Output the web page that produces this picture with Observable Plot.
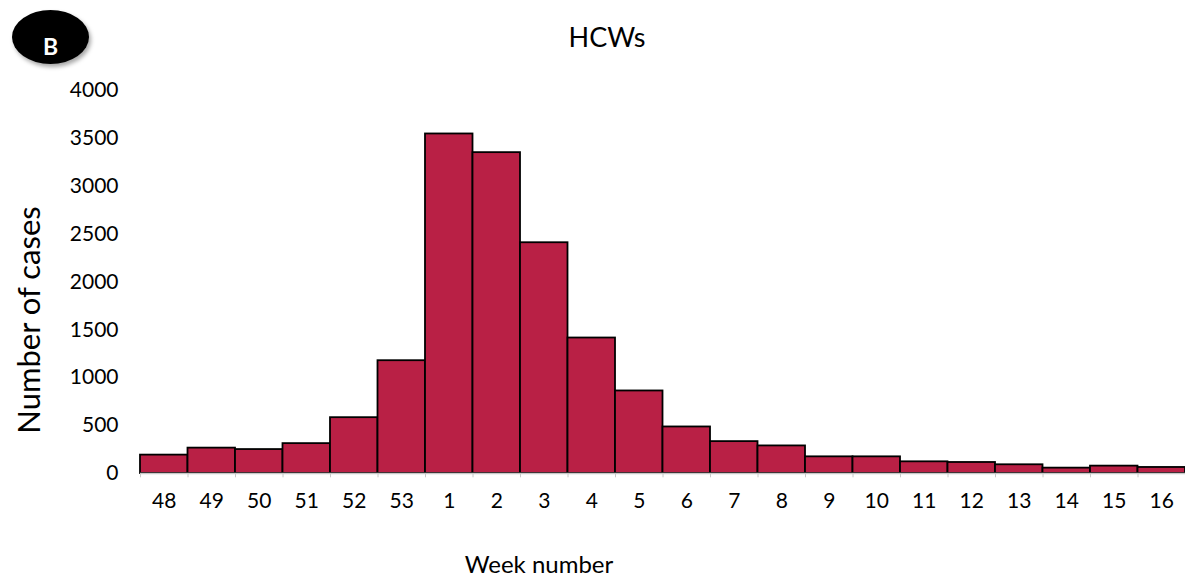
<!DOCTYPE html>
<html>
<head>
<meta charset="utf-8">
<script src="https://cdn.jsdelivr.net/npm/d3@7"></script>
<script src="https://cdn.jsdelivr.net/npm/@observablehq/plot@0.6"></script>
<style>
  html, body { margin: 0; padding: 0; background: #fff; }
  #wrap { position: relative; width: 1185px; height: 578px; overflow: hidden; }
  #badge {
    position: absolute; left: 12px; top: 10px; width: 77px; height: 54px;
    border-radius: 50%; background: #000; color: #fff;
    box-shadow: 2px 3px 4px rgba(0,0,0,0.35);
    font-family: Lato, "Open Sans", sans-serif; font-weight: 700; font-size: 23px;
    display: flex; align-items: center; justify-content: center;
    padding-top: 18px; box-sizing: border-box;
  }
</style>
</head>
<body>
<div id="wrap"><div id="badge">B</div></div>
<script>
const weeks = ["48","49","50","51","52","53","1","2","3","4","5","6","7","8","9","10","11","12","13","14","15","16"];
const cases = [192, 265, 250, 312, 583, 1178, 3546, 3351, 2410, 1415, 862, 486, 333, 288, 174, 174, 122, 115, 91, 56, 77, 63];
const yTicks = [0, 500, 1000, 1500, 2000, 2500, 3000, 3500, 4000];
const title = "HCWs";
const xLabel = "Week number";
const yLabel = "Number of cases";

const data = weeks.map((w, i) => ({week: w, value: cases[i]}));
const W = 1185, ML = 140, MR = 0;
const bw = (W - ML - MR) / weeks.length;

const chart = Plot.plot({
  width: W,
  height: 578,
  marginLeft: ML,
  marginRight: MR,
  marginTop: 90,
  marginBottom: 105,
  style: {fontFamily: "Lato, 'Open Sans', sans-serif", fontSize: "21px", color: "#000", background: "#fff", overflow: "visible"},
  x: {domain: weeks, padding: 0, round: false, label: null},
  y: {domain: [0, 4000], label: null},
  marks: [
    Plot.barY(data, {x: "week", y: "value", fill: "#B92045", stroke: "#000", strokeWidth: 1.8, inset: 0}),
    Plot.ruleX(weeks, {x: d => d, dx: -bw / 2, y1: 0, y2: -45, stroke: "#c8c8c8", strokeWidth: 1}),
    Plot.ruleY([0], {stroke: "#c8c8c8", strokeWidth: 1.5}),
    Plot.axisX({tickSize: 0, tickPadding: 20, fontSize: 21, label: null}),
    Plot.axisY({ticks: yTicks, tickFormat: d => String(d), tickSize: 0, tickPadding: 22, fontSize: 21, label: null}),
    Plot.text([title], {frameAnchor: "top", lineAnchor: "middle", dx: -56, dy: -52, fontSize: 27, textAnchor: "middle"}),
    Plot.text([xLabel], {frameAnchor: "bottom", lineAnchor: "middle", dx: -124, dy: 92, fontSize: 24, textAnchor: "middle"}),
    Plot.text([yLabel], {frameAnchor: "left", lineAnchor: "middle", rotate: -90, dx: -110, dy: 38, fontSize: 31, textAnchor: "middle"})
  ]
});
chart.style.position = "absolute";
chart.style.left = "0";
chart.style.top = "0";
const wrap = document.getElementById("wrap");
wrap.insertBefore(chart, wrap.firstChild);
</script>
</body>
</html>
